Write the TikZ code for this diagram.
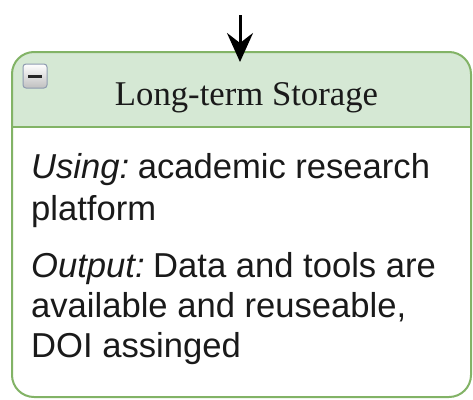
\documentclass[tikz,border=0pt]{standalone}
\usepackage{fontspec}
\setmainfont{Liberation Serif}
\newfontfamily\bodyfont{Liberation Sans}
\usetikzlibrary{arrows.meta}

\definecolor{hdrfill}{HTML}{D5E8D4}
\definecolor{hdrline}{HTML}{82B366}
\definecolor{iconline}{HTML}{8E9BB0}
\definecolor{ink}{HTML}{1A1A1A}

\tikzset{
  panel/.style={draw=none, fill=white, minimum width=459pt, minimum height=345pt,
    inner sep=0pt, outer sep=0pt},
  frame/.style={draw=hdrline, line width=2pt, rounded corners=22pt},
  titletext/.style={font=\fontsize{34.7}{41}\selectfont, text=ink, inner sep=0pt, anchor=base},
  bodytext/.style={font=\bodyfont\fontsize{34.6}{41}\selectfont, text=ink, inner sep=0pt, anchor=base west},
  collapsebtn/.style={draw=iconline, line width=1pt, rounded corners=3pt,
    top color=white, bottom color=black!25, minimum size=24pt, inner sep=0pt},
  flow/.style={line width=3pt, draw=black,
    -{Stealth[length=29pt, width=26pt, inset=10pt]}},
}

\begin{document}
\begin{tikzpicture}[x=1pt, y=-1pt]
  \useasboundingbox (0,0) rectangle (473,399);

  % container body
  \node[panel, anchor=north west] (storage) at (12,52) {};

  % header band, clipped to the rounded outline
  \begin{scope}
    \clip[rounded corners=22pt] (storage.north west) rectangle (storage.south east);
    \fill[hdrfill] (storage.north west) rectangle ([yshift=-75pt]storage.north east);
  \end{scope}
  \draw[hdrline, line width=2pt] ([yshift=-75pt]storage.north west) -- ([yshift=-75pt]storage.north east);

  % outline
  \draw[frame] (storage.north west) rectangle (storage.south east);

  % collapse button
  \node[collapsebtn] (collapse) at (35,76) {};
  \draw[line width=3pt, black!85] ([xshift=-7pt]collapse.center) -- ([xshift=7pt]collapse.center);

  % title
  \node[titletext] (title) at (246.5,105) {Long-term Storage};

  % body text
  \node[bodytext] (using1) at (31,178) {{\itshape Using:}\hspace{8.5pt}academic research};
  \node[bodytext] (using2) at (31,220) {platform};
  \node[bodytext] (out1) at (31,277) {{\itshape Output:}\hspace{8.5pt}Data and tools are};
  \node[bodytext] (out2) at (31,317) {available and reuseable,};
  \node[bodytext] (out3) at (31,357) {DOI assinged};

  % incoming connector
  \coordinate (in) at (240,15);
  \draw[flow] (in) -- ([yshift=-10pt]in |- storage.north);
\end{tikzpicture}
\end{document}
